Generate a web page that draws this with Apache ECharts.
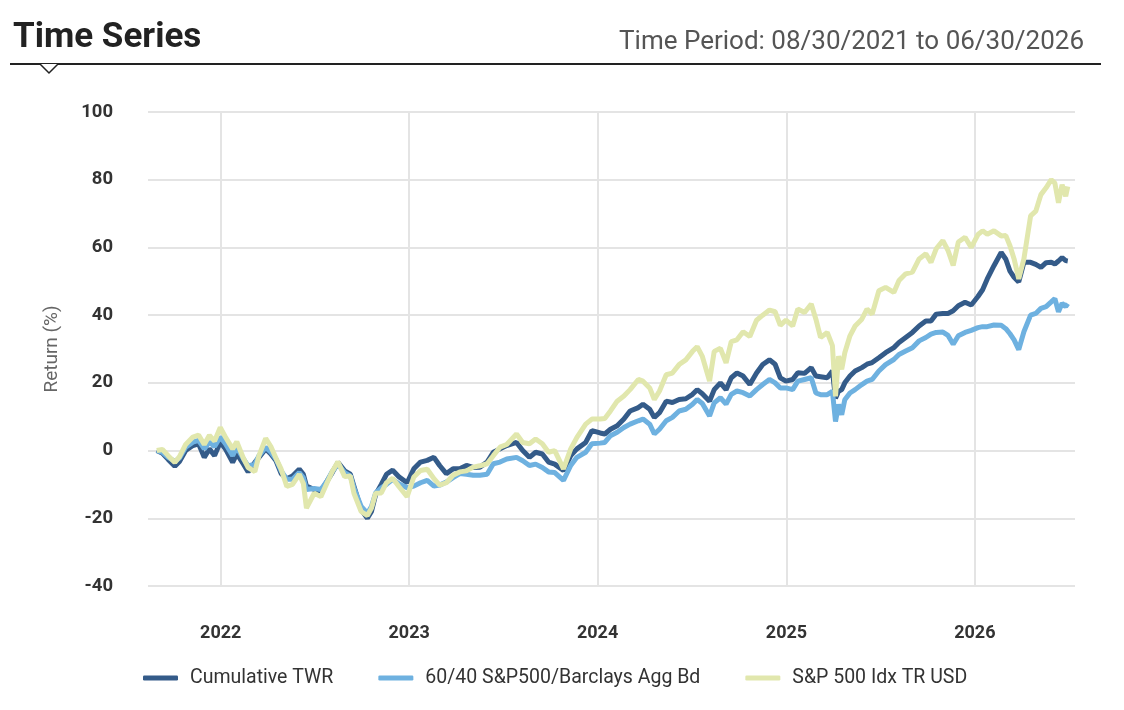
<!DOCTYPE html>
<html>
<head>
<meta charset="utf-8">
<script src="https://cdn.jsdelivr.net/npm/echarts@6.0.0/dist/echarts.min.js"></script>
<style>
  html, body { margin: 0; padding: 0; background: #fff; }
  #chart { width: 1124px; height: 710px; }
</style>
</head>
<body>
<div id="chart"></div>
<script>
var dates = [
    '2021-08-30','2021-09-10','2021-09-21','2021-10-04','2021-10-13','2021-10-25','2021-11-08','2021-11-19','2021-11-30','2021-12-10','2021-12-20','2021-12-31',
    '2022-01-10','2022-01-24','2022-02-01','2022-02-14','2022-02-23','2022-03-08','2022-03-16','2022-03-29','2022-04-08','2022-04-18','2022-04-28','2022-05-09',
    '2022-05-20','2022-06-02','2022-06-10','2022-06-16','2022-07-01','2022-07-14','2022-07-26','2022-08-05','2022-08-16','2022-08-29','2022-09-09','2022-09-16',
    '2022-09-30','2022-10-12','2022-10-20','2022-10-28','2022-11-08','2022-11-18','2022-11-30','2022-12-12','2022-12-28',
    '2023-01-10','2023-01-23','2023-02-05','2023-02-18','2023-03-01','2023-03-14','2023-03-27','2023-04-09','2023-04-22','2023-05-05','2023-05-18','2023-06-01',
    '2023-06-13','2023-06-26','2023-07-09','2023-07-28','2023-08-09','2023-08-22','2023-09-03','2023-09-16','2023-09-28','2023-10-10','2023-10-27','2023-11-10',
    '2023-11-22','2023-12-09','2023-12-21',
    '2024-01-06','2024-01-15','2024-01-26','2024-02-08','2024-02-21','2024-03-04','2024-03-20','2024-03-29','2024-04-11','2024-04-20','2024-04-30','2024-05-13',
    '2024-05-25','2024-06-07','2024-06-20','2024-07-03','2024-07-12','2024-07-22','2024-08-05','2024-08-14','2024-08-26','2024-09-06','2024-09-16','2024-09-27',
    '2024-10-09','2024-10-22','2024-11-04','2024-11-16','2024-11-29','2024-12-10','2024-12-20','2024-12-31',
    '2025-01-13','2025-01-23','2025-02-05','2025-02-18','2025-02-27','2025-03-08','2025-03-21','2025-03-31','2025-04-06','2025-04-12','2025-04-18','2025-04-24',
    '2025-05-04','2025-05-14','2025-05-27','2025-06-06','2025-06-16','2025-06-29','2025-07-12','2025-07-28','2025-08-07','2025-08-20','2025-09-02','2025-09-15',
    '2025-09-28','2025-10-08','2025-10-18','2025-10-31','2025-11-10','2025-11-20','2025-11-30','2025-12-13','2025-12-25',
    '2026-01-07','2026-01-16','2026-01-25','2026-02-07','2026-02-21','2026-03-02','2026-03-10','2026-03-18','2026-03-27','2026-04-06','2026-04-19','2026-04-29',
    '2026-05-09','2026-05-19','2026-05-29','2026-06-05','2026-06-12','2026-06-19','2026-06-26','2026-06-30'
];

// Cumulative TWR
var twr = [
    0, -0.8, -2.6, -4.6, -3.2, 0, 1.5, 2, -2, 0.5, -1.5, 2.5,
    0.5, -3.5, -1, -4, -6.3, -3.5, -2, 0.5, -1, -3, -6.8, -8.3,
    -7.5, -5.5, -7, -10.5, -11.5, -12, -9, -6.5, -3.5, -6, -7, -10.5,
    -17.5, -20, -18, -13, -10, -7, -5.8, -7.7, -9.5,
    -5.4, -3.4, -2.9, -2, -4.4, -6.8, -5.4, -5.4, -4.4, -5, -4.9, -3.4,
    -0.5, 0.5, 1.5, 2.4, 0, -2, -0.5, -1, -3.4, -4, -5.9, -1.5,
    0.5, 2.4, 5.9,
    5.2, 4.9, 6.3, 7.3, 9.3, 11.7, 12.7, 13.7, 12.2, 9.8, 11.2, 14.6,
    14.2, 15.1, 15.3, 16.6, 18, 16.8, 14.6, 18, 20, 18, 21.5, 22.9,
    22, 19.5, 22.9, 25.4, 26.8, 25.5, 21.5, 20.5,
    21, 23, 22.8, 24.5, 22, 21.8, 21.5, 23.5, 15.5, 17.5, 18, 20,
    22, 23.5, 24.5, 25.5, 26, 27.4, 28.9, 30.4, 31.9, 33.4, 34.9, 36.8,
    38.3, 38.3, 40.3, 40.5, 40.5, 41.3, 42.8, 43.8, 43,
    45.5, 47.5, 50.7, 54.6, 58.5, 56.5, 53, 51.2, 49.8, 55.6, 55.6, 55,
    54.1, 55.5, 55.6, 55.1, 56, 57, 56.1, 56
];

// 60/40 S&P500/Barclays Agg Bd
var balanced = [
    0, -0.5, -2, -3.2, -2.2, 1, 2.5, 3, 0.5, 2.5, 1.2, 4,
    2, -1.5, 1, -2.5, -4.5, -4, -1.5, 1, -0.5, -2.5, -6, -8.5,
    -8.5, -6.5, -8, -11.5, -11.2, -11.5, -9, -6.2, -4, -6.5, -7.5, -11,
    -16.5, -18.5, -16.5, -12.5, -11, -10, -8.5, -9.8, -11,
    -10.5, -9.5, -8.8, -10.5, -10.2, -9.3, -8, -6.8, -7, -7.3, -7.3, -7,
    -3.9, -3.4, -2.5, -2, -3, -4.4, -4, -5, -6.3, -6.5, -8.8, -4.4,
    -2, -0.5, 2,
    2.2, 2.4, 4.4, 5.4, 6.8, 7.8, 8.8, 9.3, 7.8, 4.9, 6.3, 8.8,
    9.8, 11.7, 12.2, 13.7, 15.1, 13.9, 10.2, 14.1, 15.6, 13.7, 16.6, 17.6,
    17.1, 16.1, 18, 19.5, 21, 20, 18.5, 18.5,
    18, 20.5, 21, 21.5, 17, 16.5, 16.5, 17.5, 8.6, 13.6, 10.6, 15,
    17, 18, 19.5, 20.5, 21, 23.5, 25.4, 26.9, 28.4, 29.4, 30.4, 32.4,
    33.4, 34.4, 34.9, 35, 34, 31.4, 33.9, 34.9, 35.5,
    36.3, 36.6, 36.6, 37.1, 37, 36, 34.5, 32.7, 29.8, 35.1, 40, 40.5,
    42, 42.5, 43.9, 44.9, 41, 43.5, 42.5, 43.4
];

// S&P 500 Idx TR USD
var sp500 = [
    0, 0.3, -1.5, -3.5, -1.8, 1.8, 4, 4.6, 1.8, 4.5, 2.8, 6.8,
    4, 0.5, 2.6, -2.3, -5, -6.2, -1.5, 3.6, 1.2, -2.3, -5.5, -10.6,
    -10, -7, -9.7, -17, -12.6, -13.6, -9.5, -6.2, -3.3, -7.7, -7.5, -12.6,
    -18, -19.2, -17, -12.6, -12.5, -9.5, -8.2, -10.6, -13.6,
    -7.8, -5.9, -5.5, -8.3, -10.2, -9.5, -7.3, -6.3, -6, -4.9, -4.5, -3.9,
    -1.5, 1, 1.8, 4.9, 2.4, 2, 3.4, 2, -0.5, 0, -5.4, 0.5,
    3.9, 7.8, 9.3,
    9.3, 9.5, 11.7, 14.6, 16.1, 18, 21, 20.5, 18.5, 15.1, 17.6, 22.4,
    22.9, 25.4, 26.8, 29.3, 30.7, 27.8, 20.5, 29.3, 30.2, 25.9, 32.2, 32.7,
    35.1, 33.7, 38.5, 40, 41.5, 41, 37, 38.5,
    36.8, 41.8, 40.8, 43.3, 38.8, 33.4, 34.9, 31, 16, 27.9, 24, 28.9,
    33.9, 36.8, 38.8, 41.8, 40.3, 47.2, 48.2, 46.7, 50.2, 52.2, 52.7, 56.6,
    58.1, 55.6, 59.6, 62, 59.1, 54.7, 61.6, 63, 60,
    63.8, 64.9, 63.9, 64.9, 63.4, 63.5, 60.5, 56.6, 50.7, 56.6, 69.3, 70.7,
    75.6, 77.6, 80, 79, 73.2, 78.5, 75.1, 78
];

var seriesNames = ['Cumulative TWR', '60/40 S&P500/Barclays Agg Bd', 'S&P 500 Idx TR USD'];
var seriesColors = ['#345b89', '#6eb1e0', '#e1e7ad'];
var yTicks = [-40, 100, 20];

function pairs(values) {
    return dates.map(function (d, i) { return [d, values[i]]; });
}

function lineSeries(idx, values) {
    return {
        name: seriesNames[idx],
        type: 'line',
        showSymbol: false,
        lineStyle: { width: 5, color: seriesColors[idx] },
        itemStyle: { color: seriesColors[idx] },
        data: pairs(values)
    };
}

var chart = echarts.init(document.getElementById('chart'));

var option = {
    backgroundColor: '#fff',
    animation: false,
    textStyle: { fontFamily: 'Roboto' },
    title: [
        {
            text: 'Time Series',
            left: 8,
            top: 16,
            textStyle: { fontFamily: 'Roboto', fontSize: 35, fontWeight: 'bold', color: '#222' }
        },
        {
            text: 'Time Period: 08/30/2021 to 06/30/2026',
            right: 35,
            top: 24,
            textStyle: { fontFamily: 'Roboto', fontSize: 26, fontWeight: 'normal', color: '#555' }
        }
    ],
    graphic: [
        {
            type: 'line',
            shape: { x1: 10, y1: 64, x2: 1101, y2: 64 },
            style: { stroke: '#222', lineWidth: 2 }
        },
        {
            type: 'polyline',
            shape: { points: [[40, 64], [49, 73], [58, 64]] },
            style: { stroke: '#222', lineWidth: 1.5, fill: '#fff' }
        }
    ],
    legend: {
        left: 138,
        top: 663,
        itemWidth: 35,
        itemHeight: 5,
        itemGap: 45,
        icon: 'roundRect',
        textStyle: { fontFamily: 'Roboto', fontSize: 19.5, color: '#333', padding: [0, 0, 0, 7] },
        data: seriesNames
    },
    grid: { left: 148, right: 49, top: 112, bottom: 124 },
    xAxis: {
        type: 'time',
        min: '2021-08-13',
        max: '2026-07-14',
        minInterval: 365 * 24 * 3600 * 1000,
        maxInterval: 366 * 24 * 3600 * 1000,
        axisLine: { show: false },
        axisTick: { show: false },
        axisLabel: {
            formatter: '{yyyy}',
            margin: 38,
            fontFamily: 'Roboto',
            fontSize: 18,
            fontWeight: 'bold',
            color: '#333',
            showMinLabel: false,
            showMaxLabel: false
        },
        splitLine: {
            show: true,
            showMinLine: false,
            showMaxLine: false,
            lineStyle: { color: '#e4e4e4', width: 2 }
        }
    },
    yAxis: {
        type: 'value',
        min: yTicks[0],
        max: yTicks[1],
        interval: yTicks[2],
        name: 'Return (%)',
        nameLocation: 'middle',
        nameGap: 86,
        nameTextStyle: { fontFamily: 'Roboto', fontSize: 19, color: '#666' },
        axisLine: { show: false },
        axisTick: { show: false },
        axisLabel: {
            margin: 35,
            fontFamily: 'Roboto',
            fontSize: 18.5,
            fontWeight: 'bold',
            color: '#333'
        },
        splitLine: { lineStyle: { color: '#e4e4e4', width: 2 } }
    },
    series: [
        lineSeries(0, twr),
        lineSeries(1, balanced),
        lineSeries(2, sp500)
    ]
};

chart.setOption(option);
</script>
</body>
</html>
